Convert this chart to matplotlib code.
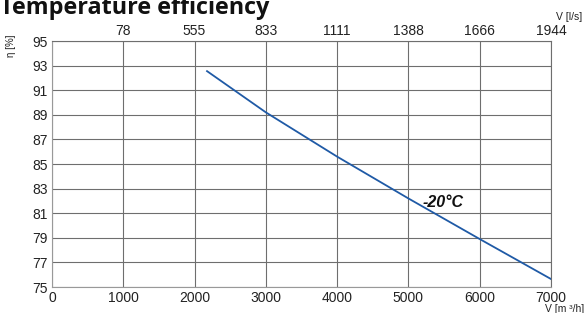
import matplotlib
matplotlib.use('Agg')
import matplotlib.pyplot as plt

# curve
flow_m3h = [2175, 3000, 4000, 5000, 6000, 7000]
eta = [92.55, 89.2, 85.6, 82.2, 78.9, 75.65]

x_ticks = [0, 1000, 2000, 3000, 4000, 5000, 6000, 7000]
y_ticks = [75, 77, 79, 81, 83, 85, 87, 89, 91, 93, 95]
top_ticks = [1000, 2000, 3000, 4000, 5000, 6000, 7000]
top_labels = ['78', '555', '833', '1111', '1388', '1666', '1944']

plt.rcParams['font.family'] = ['Liberation Sans', 'DejaVu Sans']

fig = plt.figure(figsize=(5.84, 3.13), dpi=100)
ax = fig.add_axes([0.089, 0.083, 0.8545, 0.786])

ax.plot(flow_m3h, eta, color='#1f5aa6', linewidth=1.3, zorder=3)

ax.set_xlim(0, 7000)
ax.set_ylim(75, 95)
ax.set_xticks(x_ticks)
ax.set_yticks(y_ticks)
ax.tick_params(length=0, labelsize=10, colors='#222222', pad=3)
ax.grid(True, color='#6e6e6e', linewidth=0.8)
for s in ['left', 'bottom']:
    ax.spines[s].set_color('#999999')
for s in ['top', 'right']:
    ax.spines[s].set_color('#6e6e6e')
    ax.spines[s].set_linewidth(0.8)

top = ax.secondary_xaxis('top')
top.set_xticks(top_ticks)
top.set_xticklabels(top_labels)
top.tick_params(length=0, labelsize=10, colors='#222222', pad=2)
top.spines['top'].set_visible(False)

ax.text(5200, 81.9, '-20°C', fontsize=11.5, fontweight='bold', style='italic',
        va='center', ha='left', color='#111111')

fig.text(0.0, 0.955, 'Temperature efficiency', fontsize=16.8, fontweight='bold',
         family=['Open Sans', 'DejaVu Sans'], va='baseline', ha='left',
         color='#111111')
fig.text(0.018, 0.855, 'η [%]', fontsize=7, rotation=90, va='center',
         ha='center', color='#222222')
fig.text(0.997, 0.945, 'V [l/s]', fontsize=7.5, va='center', ha='right',
         color='#222222')
fig.text(1.0, 0.012, 'V [m ³/h]', fontsize=7.5, va='center', ha='right',
         color='#222222')

fig.savefig('out.png', dpi=100, facecolor='white')
